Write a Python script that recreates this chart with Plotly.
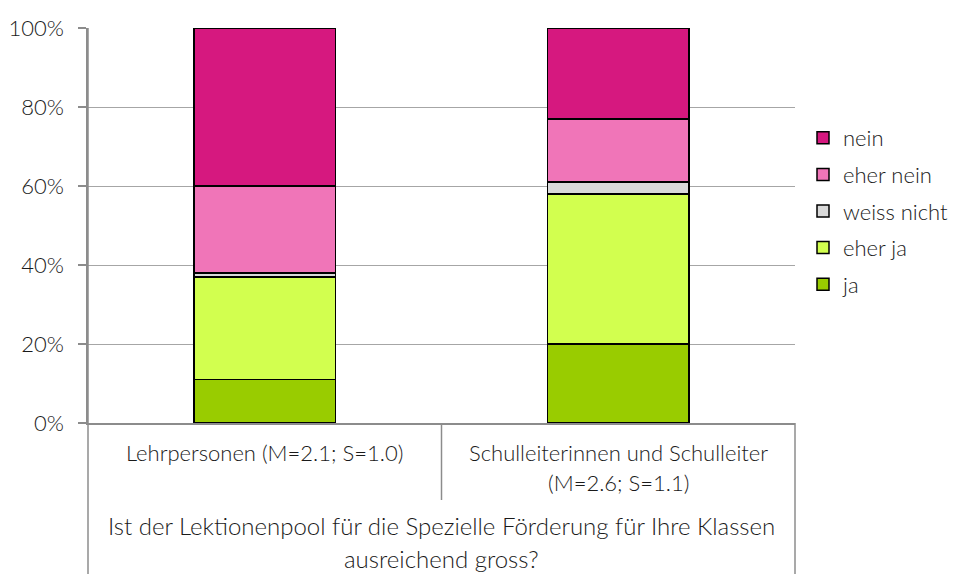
import plotly.graph_objects as go

categories = ["Lehrpersonen (M=2.1; S=1.0)", "Schulleiterinnen und Schulleiter (M=2.6; S=1.1)"]
cat_label_lines = [["Lehrpersonen (M=2.1; S=1.0)"], ["Schulleiterinnen und Schulleiter", "(M=2.6; S=1.1)"]]
group_label_lines = ["Ist der Lektionenpool für die Spezielle Förderung für Ihre Klassen", "ausreichend gross?"]

series_names = ["ja", "eher ja", "weiss nicht", "eher nein", "nein"]
ja = [11, 20]
eher_ja = [26, 38]
weiss_nicht = [1, 3]
eher_nein = [22, 16]
nein = [40, 23]
colors = ["#99CC00", "#D2FF4F", "#D9D9D9", "#F075B8", "#D6187F"]
y_ticks = [0, 20, 40, 60, 80, 100]

FONT = "Lato"
FW = 300
TC = "#1a1a1a"
FS = 22

fig = go.Figure()
for i, (name, vals, col) in enumerate(zip(series_names, [ja, eher_ja, weiss_nicht, eher_nein, nein], colors)):
    fig.add_trace(go.Bar(
        x=categories, y=vals, name=name, legendgroup=name,
        legendrank=len(series_names) - i,
        marker=dict(color=col, line=dict(color="#000000", width=1.5)),
        width=0.4,
    ))

# page body has an 8px margin; figure coordinates are offset by it
OFF = 8
W, H = 960 - OFF, 574 - OFF
L, T = 88 - OFF, 28 - OFF
R = W - (795 - OFF)
B = H - (423 - OFF)
pw, ph = W - L - R, H - T - B

def py(pix):
    return (423 - pix) / ph

def px(pix):
    return (pix - 88) / pw

afont = dict(size=FS, family=FONT, color=TC, weight=FW)
tfont = dict(size=24, family=FONT, color=TC, weight=FW)
annotations = []
centers = [0.25, 0.75]
for c, lines in zip(centers, cat_label_lines):
    for i, line in enumerate(lines):
        annotations.append(dict(x=c, y=py(452 + 31 * i), xref="paper", yref="paper",
                                text=line, showarrow=False, xanchor="center", yanchor="middle",
                                font=afont))
for i, line in enumerate(group_label_lines):
    annotations.append(dict(x=0.5, y=py(525 + 33 * i), xref="paper", yref="paper",
                            text=line, showarrow=False, xanchor="center", yanchor="middle",
                            font=tfont))

lc = "#8C8C8C"
shapes = [
    dict(type="line", xref="paper", yref="paper", x0=0, x1=0, y0=1, y1=py(580), line=dict(color=lc, width=1.5)),
    dict(type="line", xref="paper", yref="paper", x0=1, x1=1, y0=0, y1=py(580), line=dict(color=lc, width=1.5)),
    dict(type="line", xref="paper", yref="paper", x0=0.5, x1=0.5, y0=0, y1=py(500), line=dict(color=lc, width=1.5)),
]

fig.update_layout(
    width=W, height=H,
    margin=dict(l=L, r=R, t=T, b=B, pad=0, autoexpand=False),
    paper_bgcolor="white", plot_bgcolor="white",
    barmode="stack",
    font=dict(family=FONT, size=FS, color=TC, weight=FW),
    showlegend=True,
    legend=dict(x=px(803), y=py(117), xanchor="left", yanchor="top",
                traceorder="grouped", tracegroupgap=5,
                font=afont,
                bgcolor="rgba(0,0,0,0)", itemwidth=30),
    xaxis=dict(showticklabels=False, showline=True, linecolor=lc, linewidth=1.5,
               showgrid=False, ticks="", fixedrange=True, automargin=False),
    yaxis=dict(range=[0, 100], tickvals=y_ticks, ticktext=[f"{v}%" for v in y_ticks],
               showgrid=True, gridcolor="#A6A6A6", gridwidth=1.2,
               ticks="outside", ticklen=8, tickcolor=lc, tickwidth=1.5,
               showline=True, linecolor=lc, linewidth=1.5,
               zeroline=False, automargin=False,
               ticklabelstandoff=10,
               tickfont=afont),
    annotations=annotations,
    shapes=shapes,
)

fig.write_html("out.html")
